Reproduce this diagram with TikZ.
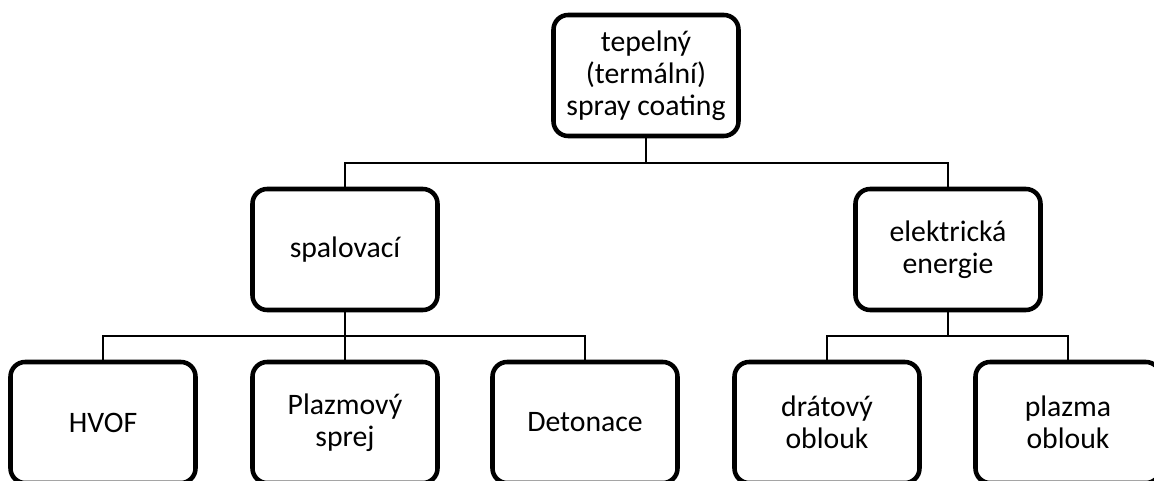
\documentclass[tikz,border=0pt]{standalone}
\usepackage{fontspec}
\setmainfont{Carlito}
\begin{document}
\begin{tikzpicture}[x=0.75pt,y=0.75pt,
	box/.style={draw,line width=3.4pt,rounded corners=11pt,align=center,
		minimum width=138.75pt,minimum height=90.75pt,inner sep=0pt,
		font=\fontsize{22.3}{24}\selectfont},
	link/.style={line width=1.1pt}]
	\clip (0,0) rectangle (1154,481);
	% levels
	\node[box] (tep) at (646,405.5) {tepelný\\(termální)\\spray coating};
	\node[box] (spal) at (345,231.5) {spalovací};
	\node[box] (elek) at (948,231.5) {elektrická\\energie};
	\node[box] (hvof) at (103,58.5) {HVOF};
	\node[box] (plsp) at (345,58.5) {Plazmový\\sprej};
	\node[box] (deto) at (585,58.5) {Detonace};
	\node[box] (drat) at (827,58.5) {drátový\\oblouk};
	\node[box] (plob) at (1068,58.5) {plazma\\oblouk};
	% buses
	\coordinate (bus1) at (0,318);
	\coordinate (bus2) at (0,145);
	\draw[link] (tep.south) -- (tep.south |- bus1) -| (spal.north);
	\draw[link] (tep.south |- bus1) -| (elek.north);
	\draw[link] (spal.south) -- (spal.south |- bus2) -| (hvof.north);
	\draw[link] (spal.south |- bus2) -- (plsp.north);
	\draw[link] (spal.south |- bus2) -| (deto.north);
	\draw[link] (elek.south) -- (elek.south |- bus2) -| (drat.north);
	\draw[link] (elek.south |- bus2) -| (plob.north);
\end{tikzpicture}
\end{document}
